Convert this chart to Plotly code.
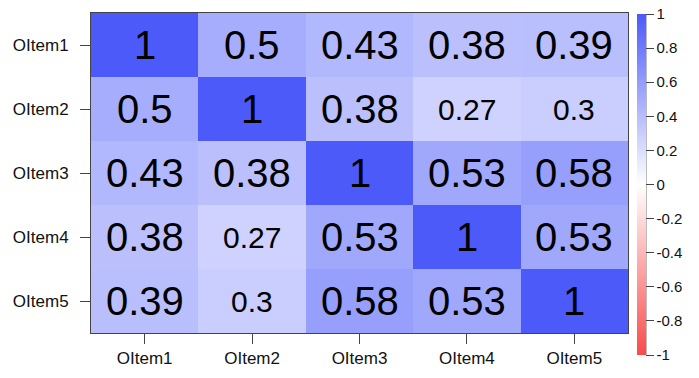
import plotly.graph_objects as go

items = ["OItem1", "OItem2", "OItem3", "OItem4", "OItem5"]
corr = [
    [1, 0.5, 0.43, 0.38, 0.39],
    [0.5, 1, 0.38, 0.27, 0.3],
    [0.43, 0.38, 1, 0.53, 0.58],
    [0.38, 0.27, 0.53, 1, 0.53],
    [0.39, 0.3, 0.58, 0.53, 1],
]
cbar_ticks = [1, 0.8, 0.6, 0.4, 0.2, 0, -0.2, -0.4, -0.6, -0.8, -1]

BLUE = "rgb(76,90,250)"
RED = "rgb(250,74,74)"
FONT = "Liberation Sans, Arial, sans-serif"

CB_TOP = 1 - 1 / 320   # colorbar top, paper units
CB_LEN = 341           # px

fig = go.Figure()
fig.add_trace(go.Heatmap(
    z=corr, x=items, y=items,
    zmin=-1, zmax=1,
    colorscale=[[0, RED], [0.5, "white"], [1, BLUE]],
    xgap=0, ygap=0,
    hoverinfo="z",
    colorbar=dict(
        thickness=9, lenmode="pixels", len=CB_LEN,
        x=1.0165, xanchor="left", xpad=0,
        y=CB_TOP, yanchor="top", ypad=0,
        outlinewidth=0,
        tickvals=cbar_ticks,
        ticktext=[("%g" % v) for v in cbar_ticks],
        ticks="outside", ticklen=8, tickcolor="#444",
        tickfont=dict(family=FONT, size=15, color="#111"),
        ticklabeloverflow="allow",
    ),
))

annotations = []
for i, row in enumerate(corr):
    for j, v in enumerate(row):
        size = 40 if abs(v) >= 0.35 else 30
        annotations.append(dict(
            x=items[j], y=items[i], text="%g" % v, showarrow=False,
            font=dict(family=FONT, size=size, color="black"),
        ))

fig.update_layout(
    width=699, height=378,
    margin=dict(l=91, r=71, t=13, b=45, autoexpand=False),
    paper_bgcolor="white", plot_bgcolor="white",
    annotations=annotations,
    font=dict(family=FONT),
    shapes=[dict(type="line", xref="paper", yref="paper",
                 x0=1.0165 + 9 / 537, x1=1.0165 + 9 / 537,
                 y0=CB_TOP, y1=CB_TOP - CB_LEN / 320,
                 line=dict(color="#444", width=1))],
)
fig.update_xaxes(
    automargin=False,
    showline=True, linecolor="#444", linewidth=1, mirror=True,
    ticks="outside", ticklen=10, tickcolor="#444",
    tickfont=dict(family=FONT, size=17, color="#111"),
    showgrid=False, zeroline=False,
)
fig.update_yaxes(
    automargin=False,
    autorange="reversed",
    showline=True, linecolor="#444", linewidth=1, mirror=True,
    ticks="outside", ticklen=10, tickcolor="#444",
    tickfont=dict(family=FONT, size=17, color="#111"),
    showgrid=False, zeroline=False, ticklabelstandoff=8,
)

fig.write_html("out.html", config={"displayModeBar": False},
               post_script="document.body.style.margin='0';")
